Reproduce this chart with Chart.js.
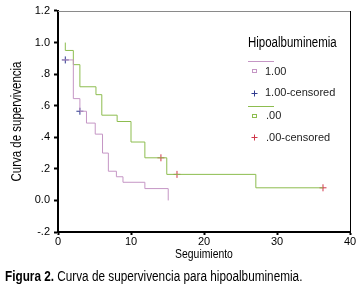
<!DOCTYPE html>
<html>
<head>
<meta charset="utf-8">
<script src="https://cdn.jsdelivr.net/npm/chart.js@4.4.0/dist/chart.umd.min.js"></script>
<style>
  html, body { margin: 0; padding: 0; background: #fff; }
  canvas { display: block; }
</style>
</head>
<body>
<canvas id="kmChart" width="361" height="289"></canvas>
<script>
// Hipoalbuminemia = 1.00
const timesPos = [0.6, 2.1, 3.0, 3.9, 5.1, 6.1, 6.9, 8.0, 8.9, 11.9, 15.1];
const survPos = [0.89, 0.645, 0.565, 0.49, 0.42, 0.30, 0.185, 0.15, 0.115, 0.075, 0.0];
const censPosTimes = [1.0, 3.0];
const censPosSurv = [0.89, 0.565];

// Hipoalbuminemia = .00
const timesNeg = [1.0, 1.0, 2.1, 3.0, 5.2, 6.0, 8.1, 10.0, 11.9, 14.9, 27.1, 36.3];
const survNeg = [1.0, 0.95, 0.86, 0.72, 0.67, 0.54, 0.50, 0.37, 0.27, 0.165, 0.08, 0.08];
const censNegTimes = [14.1, 16.3, 36.3];
const censNegSurv = [0.27, 0.165, 0.08];

const yTickLabels = ['-.2', '0.0', '.2', '.4', '.6', '.8', '1.0', '1.2'];
const xTickLabels = ['0', '10', '20', '30', '40'];
const legendTitle = 'Hipoalbuminemia';
const legendItems = ['1.00', '1.00-censored', '.00', '.00-censored'];

const purple = '#c596c5';
const green = '#8dbd4f';
const navy = '#2f3a8f';
const red = '#d0374a';
const sans = '"Liberation Sans", Arial, sans-serif';

function toPoints(xs, ys) {
  return xs.map((x, i) => ({ x: x, y: ys[i] }));
}

// no narrow font installed, so squeeze regular sans sideways
function narrowText(ctx, text, x, y, font, squeeze) {
  ctx.save();
  ctx.font = font;
  ctx.translate(x, y);
  ctx.scale(squeeze, 1);
  ctx.fillText(text, 0, 0);
  const w = ctx.measureText(text).width * squeeze;
  ctx.restore();
  return w;
}

const extras = {
  id: 'extras',
  afterDraw(chart) {
    const ctx = chart.ctx;
    const a = chart.chartArea;
    ctx.save();
    // frame: top and right
    ctx.lineWidth = 1;
    ctx.strokeStyle = '#8a8a8a';
    ctx.beginPath();
    ctx.moveTo(a.left, a.top + 0.5);
    ctx.lineTo(a.right, a.top + 0.5);
    ctx.stroke();
    ctx.strokeStyle = '#000';
    ctx.beginPath();
    ctx.moveTo(a.right + 0.5, a.top);
    ctx.lineTo(a.right + 0.5, a.bottom);
    ctx.stroke();

    // axis titles
    ctx.fillStyle = '#000';
    ctx.textAlign = 'center';
    ctx.textBaseline = 'middle';
    narrowText(ctx, 'Seguimiento', (a.left + a.right) / 2, 254, '13px ' + sans, 0.8);
    ctx.save();
    ctx.translate(17, (a.top + a.bottom) / 2);
    ctx.rotate(-Math.PI / 2);
    narrowText(ctx, 'Curva de supervivencia', 0, 0, '14px ' + sans, 0.82);
    ctx.restore();

    // legend
    ctx.textAlign = 'left';
    narrowText(ctx, legendTitle, 248, 43, '14px ' + sans, 0.82);
    ctx.lineWidth = 1;
    ctx.strokeStyle = purple;
    ctx.beginPath(); ctx.moveTo(248, 61.5); ctx.lineTo(274, 61.5); ctx.stroke();
    ctx.strokeRect(252.5, 69.5, 4, 3);
    ctx.strokeStyle = navy;
    ctx.beginPath();
    ctx.moveTo(251.5, 93.5); ctx.lineTo(257.5, 93.5);
    ctx.moveTo(254.5, 90.5); ctx.lineTo(254.5, 96.5);
    ctx.stroke();
    ctx.strokeStyle = green;
    ctx.beginPath(); ctx.moveTo(248, 106.5); ctx.lineTo(274, 106.5); ctx.stroke();
    ctx.strokeRect(252.5, 114.5, 4, 3);
    ctx.strokeStyle = red;
    ctx.beginPath();
    ctx.moveTo(251.5, 137.5); ctx.lineTo(257.5, 137.5);
    ctx.moveTo(254.5, 134.5); ctx.lineTo(254.5, 140.5);
    ctx.stroke();

    ctx.fillStyle = '#222';
    ctx.font = '11px ' + sans;
    ctx.fillText(legendItems[0], 265, 72);
    ctx.fillText(legendItems[1], 265, 93);
    ctx.fillText(legendItems[2], 266, 116);
    ctx.fillText(legendItems[3], 266, 138);

    // caption
    ctx.fillStyle = '#000';
    const lead = 'Figura 2. ';
    const w = narrowText(ctx, lead, 5, 277, 'bold 14px ' + sans, 0.84);
    narrowText(ctx, 'Curva de supervivencia para hipoalbuminemia.', 5 + w, 277, '14px ' + sans, 0.84);
    ctx.restore();
  }
};

new Chart(document.getElementById('kmChart'), {
  type: 'scatter',
  data: {
    datasets: [
      {
        label: legendItems[0],
        data: toPoints(timesPos, survPos),
        showLine: true,
        stepped: 'before',
        borderColor: purple,
        borderWidth: 1,
        pointRadius: 0
      },
      {
        label: legendItems[2],
        data: toPoints(timesNeg, survNeg),
        showLine: true,
        stepped: 'before',
        borderColor: green,
        borderWidth: 1,
        pointRadius: 0
      },
      {
        label: legendItems[1],
        data: toPoints(censPosTimes, censPosSurv),
        showLine: false,
        pointStyle: 'cross',
        pointRadius: 3.5,
        borderColor: navy,
        borderWidth: 1
      },
      {
        label: legendItems[3],
        data: toPoints(censNegTimes, censNegSurv),
        showLine: false,
        pointStyle: 'cross',
        pointRadius: 3.5,
        borderColor: red,
        borderWidth: 1
      }
    ]
  },
  options: {
    responsive: false,
    animation: false,
    layout: { padding: { top: 11, right: 11, left: 0, bottom: 0 } },
    plugins: {
      legend: { display: false },
      tooltip: { enabled: false }
    },
    scales: {
      x: {
        type: 'linear',
        min: 0,
        max: 40,
        afterFit(scale) { scale.height = 57; },
        afterBuildTicks(scale) {
          scale.ticks = xTickLabels.map(v => ({ value: Number(v) }));
        },
        ticks: {
          padding: 0,
          color: '#000',
          font: { family: sans, size: 11 },
          callback: (v, i) => xTickLabels[i]
        },
        grid: { drawOnChartArea: false, tickLength: 3, tickWidth: 2, tickColor: '#000' },
        border: { color: '#000', width: 2 }
      },
      y: {
        type: 'linear',
        min: -0.2,
        max: 1.2,
        afterFit(scale) { scale.width = 58; },
        afterBuildTicks(scale) {
          scale.ticks = yTickLabels.map((t, i) => ({ value: -0.2 + i * 0.2 }));
        },
        ticks: {
          padding: 4,
          color: '#000',
          font: { family: sans, size: 11 },
          callback: (v, i) => yTickLabels[i]
        },
        grid: { drawOnChartArea: false, tickLength: 4, tickWidth: 2, tickColor: '#000' },
        border: { color: '#000', width: 2 }
      }
    }
  },
  plugins: [extras]
});
</script>
</body>
</html>
